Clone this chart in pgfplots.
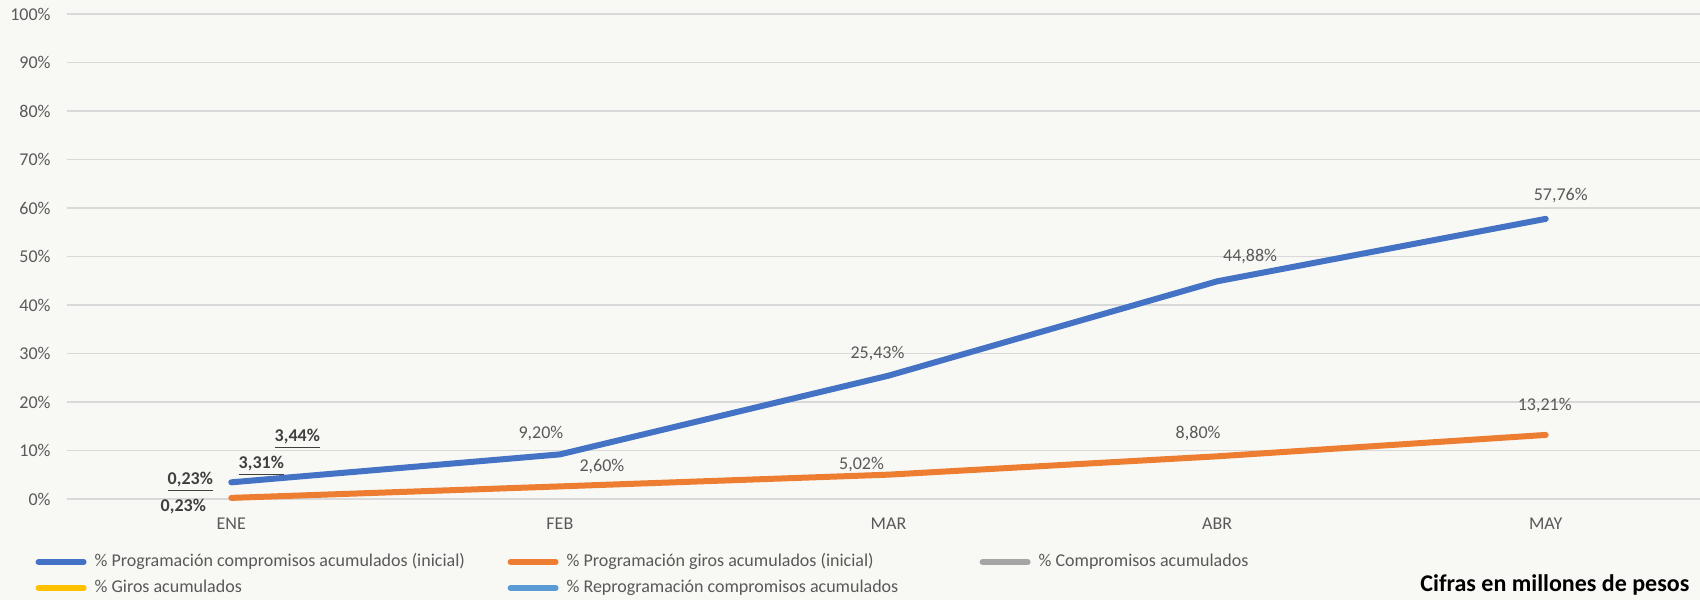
\documentclass[border=0pt]{standalone}
\usepackage{pgfplots}
\pgfplotsset{compat=1.18}
\usepackage{fontspec}
\setmainfont{Carlito}

\definecolor{bg}{HTML}{F8F8F4}
\definecolor{gridc}{HTML}{D9D9D9}
\definecolor{txt}{HTML}{595959}
\definecolor{dark}{HTML}{404040}
\definecolor{serA}{HTML}{4472C4}
\definecolor{serB}{HTML}{ED7D31}
\definecolor{serC}{HTML}{A5A5A5}
\definecolor{serD}{HTML}{FFC000}
\definecolor{serE}{HTML}{5B9BD5}

\begin{document}
\begin{tikzpicture}[font=\fontsize{9}{11}\selectfont,
    lbl/.style={text=txt, inner sep=0pt, anchor=center},
    blbl/.style={text=dark, inner sep=0pt, anchor=center, font=\fontsize{9}{11}\selectfont\bfseries}]
\fill[bg] (-33.5pt,-50.5pt) rectangle (816.5pt,249.5pt);
\begin{axis}[
    scale only axis,
    width=821.5pt,
    height=242.5pt,
    xmin=-0.5, xmax=4.5,
    ymin=0, ymax=100,
    clip=false,
    axis line style={draw=none},
    major tick length=0pt,
    xtick={0,1,2,3,4},
    xticklabels={ENE,FEB,MAR,ABR,MAY},
    ytick={0,10,...,100},
    yticklabel={\pgfmathprintnumber{\tick}\%},
    /pgf/number format/assume math mode=true,
    ymajorgrids=true,
    grid style={gridc, line width=0.75pt},
    ticklabel style={text=txt},
    yticklabel style={inner sep=0pt, anchor=east, xshift=-8pt},
    xticklabel style={inner sep=0pt, anchor=base, yshift=-15.4pt},
    legend columns=3,
    legend cell align=left,
    legend style={draw=none, fill=none, text=txt,
        at={(axis description cs:0,0)}, anchor=west,
        xshift=-18.9pt, yshift=-38pt,
        column sep=0pt, row sep=4.5pt,
        nodes={inner sep=0pt, text height=6.5pt, text depth=2pt}},
    legend image code/.code={\draw[#1, line width=3pt, line cap=round] (0pt,0pt) -- (22.5pt,0pt);},
]
\addplot[serA, line width=3pt, line cap=round, line join=round] coordinates {
    (0,3.44) (1,9.20) (2,25.43) (3,44.88) (4,57.76)
};
\addlegendentry{\makebox[210.5pt][l]{\hspace{4pt}\% Programación compromisos acumulados (inicial)}}
\addplot[serB, line width=3pt, line cap=round, line join=round] coordinates {
    (0,0.23) (1,2.60) (2,5.02) (3,8.80) (4,13.21)
};
\addlegendentry{\makebox[210.5pt][l]{\hspace{4pt}\% Programación giros acumulados (inicial)}}
\addplot[serC, line width=3pt] coordinates {(0,3.31)};
\addlegendentry{\hspace{4pt}\% Compromisos acumulados}
\addplot[serD, line width=3pt] coordinates {(0,0.23)};
\addlegendentry{\makebox[210.5pt][l]{\hspace{4pt}\% Giros acumulados}}
\addlegendimage{serE, line width=3pt}
\addlegendentry{\makebox[210.5pt][l]{\hspace{4pt}\% Reprogramación compromisos acumulados}}

% etiquetas serie azul
\node[lbl, xshift=-9.5pt, yshift=10.5pt] at (axis cs:1,9.20) {9,20\%};
\node[lbl, xshift=-5.5pt, yshift=11pt] at (axis cs:2,25.43) {25,43\%};
\node[lbl, xshift=16.5pt, yshift=12.5pt] at (axis cs:3,44.88) {44,88\%};
\node[lbl, xshift=7.5pt, yshift=11.5pt] at (axis cs:4,57.76) {57,76\%};
% etiquetas serie naranja
\node[lbl, xshift=21pt, yshift=10pt] at (axis cs:1,2.60) {2,60\%};
\node[lbl, xshift=-13.5pt, yshift=5pt] at (axis cs:2,5.02) {5,02\%};
\node[lbl, xshift=-9.5pt, yshift=11.5pt] at (axis cs:3,8.80) {8,80\%};
\node[lbl, xshift=-0.5pt, yshift=14.5pt] at (axis cs:4,13.21) {13,21\%};
% etiquetas manuales en ENE
\node[blbl, xshift=33pt, yshift=30pt] at (axis cs:0,0) {\underline{3,44\%}};
\node[blbl, xshift=15pt, yshift=16.5pt] at (axis cs:0,0) {\underline{3,31\%}};
\node[blbl, xshift=-20.5pt, yshift=8.5pt] at (axis cs:0,0) {\underline{0,23\%}};
\node[blbl, xshift=-24pt, yshift=-4pt] at (axis cs:0,0) {0,23\%};
\end{axis}
\node[anchor=west, inner sep=0pt, font=\fontsize{12}{14}\selectfont\bfseries] at (676.5pt,-43pt) {Cifras en millones de pesos};
\pgfresetboundingbox
\useasboundingbox (-33.5pt,-50.5pt) rectangle (816.5pt,249.5pt);
\end{tikzpicture}
\end{document}
